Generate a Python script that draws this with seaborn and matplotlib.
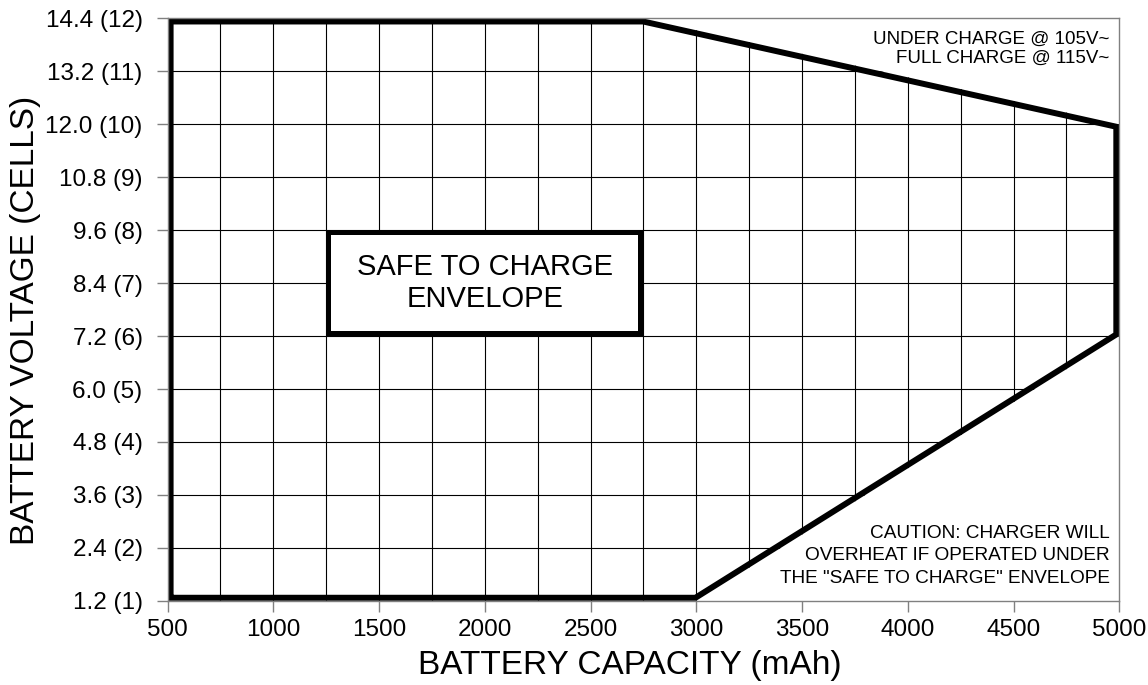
import numpy as np
import pandas as pd
import matplotlib
matplotlib.use("Agg")
import matplotlib.pyplot as plt
import seaborn as sns
from matplotlib.patches import Rectangle

# envelope corners (capacity mAh, voltage V), walked clockwise
capacity_mah = [500, 500, 2750, 5000, 5000, 3000]
voltage = [1.2, 14.4, 14.4, 12.0, 7.2, 1.2]

x_ticks = [500, 1000, 1500, 2000, 2500, 3000, 3500, 4000, 4500, 5000]
y_ticks = [1.2, 2.4, 3.6, 4.8, 6.0, 7.2, 8.4, 9.6, 10.8, 12.0, 13.2, 14.4]
y_labels = ["1.2 (1)", "2.4 (2)", "3.6 (3)", "4.8 (4)", "6.0 (5)", "7.2 (6)",
            "8.4 (7)", "9.6 (8)", "10.8 (9)", "12.0 (10)", "13.2 (11)", "14.4 (12)"]

# label box "SAFE TO CHARGE ENVELOPE"
box_x = [1250, 2750]
box_y = [7.2, 9.6]

sns.set_theme(style="white")
plt.rcParams["font.family"] = ["Liberation Sans", "DejaVu Sans"]
plt.rcParams["text.color"] = "black"
plt.rcParams["axes.labelcolor"] = "black"

fig = plt.figure(figsize=(11.48, 6.85), dpi=100)
ax = fig.add_axes([0.146, 0.123, 0.829, 0.850])

df = pd.DataFrame({"capacity": capacity_mah + capacity_mah[:1],
                   "voltage": voltage + voltage[:1]})

# invisible polygon used as clip region (grid + inner half of outline)
env = ax.fill(capacity_mah, voltage, facecolor="none", edgecolor="none")[0]

grid_x = np.arange(500, 5001, 250)
vl = ax.vlines(grid_x, 1.2, 14.4, colors="black", linewidth=0.8, zorder=1)
hl = ax.hlines(y_ticks, 500, 5000, colors="black", linewidth=0.8, zorder=1)
vl.set_clip_path(env)
hl.set_clip_path(env)

sns.lineplot(data=df, x="capacity", y="voltage", sort=False, estimator=None,
             color="black", linewidth=8.6, ax=ax, zorder=2)
ax.lines[-1].set_clip_path(env)
ax.lines[-1].set_solid_joinstyle("miter")

box = Rectangle((box_x[0], box_y[0]), box_x[1] - box_x[0], box_y[1] - box_y[0],
                facecolor="white", edgecolor="black", linewidth=7.2, zorder=3)
ax.add_patch(box)
box.set_clip_path(box)
ax.text(np.mean(box_x), np.mean(box_y), "SAFE TO CHARGE\nENVELOPE", ha="center",
        va="center", fontsize=21, linespacing=1.2, color="black", zorder=4)

ax.text(0.990, 0.978, "UNDER CHARGE @ 105V~\nFULL CHARGE @ 115V~", transform=ax.transAxes,
        ha="right", va="top", fontsize=13.5, linespacing=1.15, color="black")
ax.text(0.990, 0.024, "CAUTION: CHARGER WILL\nOVERHEAT IF OPERATED UNDER\nTHE \"SAFE TO CHARGE\" ENVELOPE",
        transform=ax.transAxes, ha="right", va="bottom", fontsize=13.7, linespacing=1.42,
        color="black")

ax.set_xlim(500, 5000)
ax.set_ylim(1.2, 14.4)
ax.set_xticks(x_ticks)
ax.set_xticklabels([str(v) for v in x_ticks])
ax.set_yticks(y_ticks)
ax.set_yticklabels(y_labels)
ax.tick_params(axis="both", direction="out", length=8, width=1, color="#808080",
               labelsize=17.5, labelcolor="black", bottom=True, left=True)
ax.tick_params(axis="y", pad=10)
ax.tick_params(axis="x", pad=5)

for s in ax.spines.values():
    s.set_visible(True)
    s.set_color("#808080")
    s.set_linewidth(1)
ax.grid(False)

ax.set_xlabel("BATTERY CAPACITY (mAh)", fontsize=24, color="black")
ax.set_ylabel("BATTERY VOLTAGE (CELLS)", fontsize=24, color="black")
ax.xaxis.set_label_coords(0.486, -0.084)
ax.yaxis.set_label_coords(-0.133, 0.482)

fig.savefig("out.png", dpi=100)
